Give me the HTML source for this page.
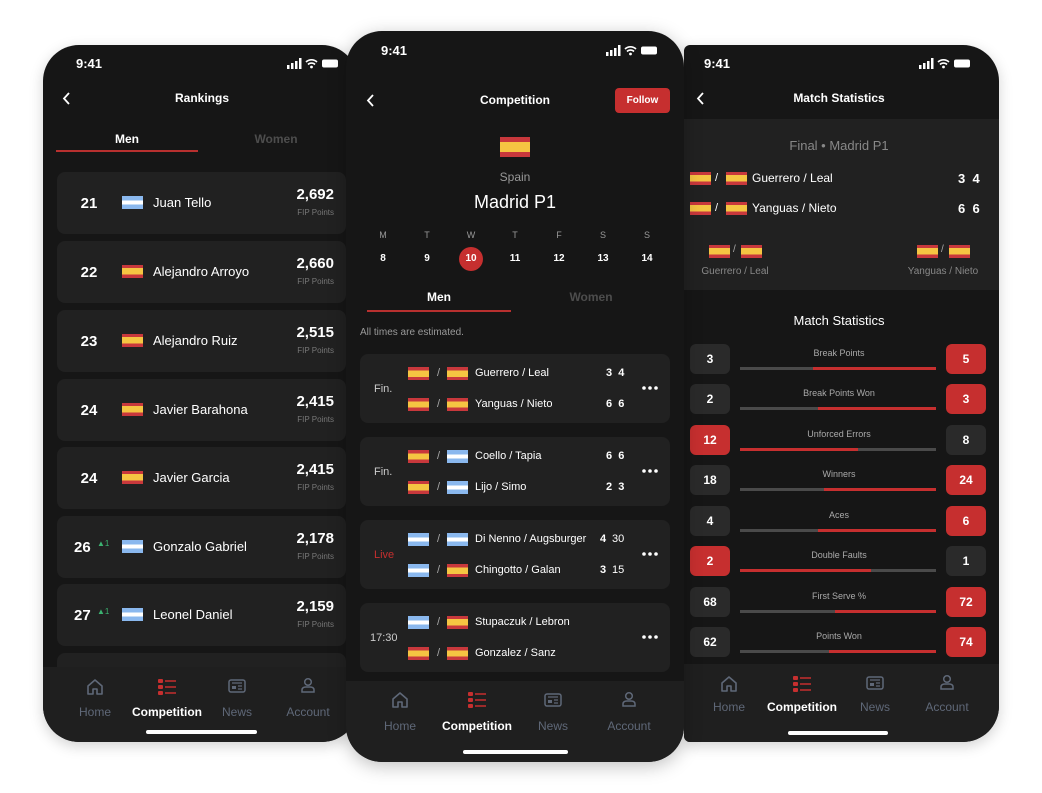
<!DOCTYPE html>
<html><head><meta charset="utf-8"><style>
*{margin:0;padding:0;box-sizing:border-box}
body{width:1042px;height:793px;background:#fff;position:relative;overflow:hidden;font-family:"Liberation Sans",sans-serif;color:#fff}
.a{position:absolute}
.ph{position:absolute;background:#161616;border-radius:36px;overflow:hidden;box-shadow:0 4px 14px rgba(0,0,0,.18)}
.c{position:absolute;text-align:center;white-space:nowrap;line-height:1}
.t{position:absolute;white-space:nowrap;line-height:1}
.es{position:absolute;width:21px;height:13px;background:linear-gradient(#c8383c 0 25%,#f5c542 25% 75%,#c8383c 75%)}
.ar{position:absolute;width:21px;height:13px;background:linear-gradient(#8ab8ee 0 33%,#fff 33% 67%,#8ab8ee 67%)}
.card{position:absolute;background:#212121;border-radius:8px}
.nav{position:absolute;left:0;width:100%;background:#1f1f1f}
.nl{position:absolute;width:100px;text-align:center;font-size:12px;color:#5f6878;line-height:1}
.nl.on{color:#fff;font-weight:bold}
.ind{position:absolute;height:4px;background:#fff;border-radius:2px}
.sb{position:absolute;width:40px;height:30px;border-radius:6px;background:#2a2a2a;text-align:center;line-height:30px;font-size:12px;font-weight:bold}
.sb.r{background:#c62f2f}
.bar{position:absolute;height:3px;width:196px;background:#4a4a4a}
.bar i{position:absolute;top:0;height:3px;background:#c62f2f}
.dots{position:absolute;left:282px;top:32px}
</style></head><body>

<!-- LEFT PHONE -->
<div class="ph" style="left:43px;top:45px;width:315px;height:697px;z-index:1">
 <div class="t" style="left:33px;top:12px;font-size:13px;font-weight:bold">9:41</div>
 <svg class="a" style="left:244px;top:13px" width="54" height="11"><rect x="0" y="7" width="2.5" height="4" fill="#fff"/><rect x="4" y="5" width="2.5" height="6" fill="#fff"/><rect x="8" y="3" width="2.5" height="8" fill="#fff"/><rect x="12" y="0" width="2.5" height="11" fill="#fff"/><path d="M19 4a8 8 0 0 1 11 0M21 6.5a5 5 0 0 1 7 0" stroke="#fff" stroke-width="1.6" fill="none"/><circle cx="24.5" cy="9" r="1.4" fill="#fff"/><rect x="35" y="1.5" width="16" height="8" rx="2" fill="#fff"/></svg>
 <svg class="a" style="left:19px;top:47px" width="10" height="13"><path d="M7 1L2 6.5L7 12" stroke="#fff" stroke-width="1.8" fill="none"/></svg>
 <div class="c" style="left:59px;width:200px;top:47px;font-size:12px;font-weight:bold">Rankings</div>
 <div class="c" style="left:34px;width:100px;top:88px;font-size:12px;font-weight:bold">Men</div>
 <div class="c" style="left:183px;width:100px;top:88px;font-size:12px;font-weight:bold;color:#4d4d4d">Women</div>
 <div class="a" style="left:13px;top:105px;width:142px;height:2px;background:#b8302f"></div>

 <div class="card" style="left:14px;top:127px;width:289px;height:62px"><div class="c" style="left:12px;width:40px;top:24px;font-size:15px;font-weight:bold">21</div><span class="ar" style="left:65px;top:24px"></span><div class="t" style="left:96px;top:24px;font-size:13px">Juan Tello</div><div class="t" style="right:12px;top:15px;font-size:15px;font-weight:bold">2,692</div><div class="t" style="right:12px;top:37px;font-size:8px;color:#777">FIP Points</div></div>
 <div class="card" style="left:14px;top:196px;width:289px;height:62px"><div class="c" style="left:12px;width:40px;top:24px;font-size:15px;font-weight:bold">22</div><span class="es" style="left:65px;top:24px"></span><div class="t" style="left:96px;top:24px;font-size:13px">Alejandro Arroyo</div><div class="t" style="right:12px;top:15px;font-size:15px;font-weight:bold">2,660</div><div class="t" style="right:12px;top:37px;font-size:8px;color:#777">FIP Points</div></div>
 <div class="card" style="left:14px;top:265px;width:289px;height:62px"><div class="c" style="left:12px;width:40px;top:24px;font-size:15px;font-weight:bold">23</div><span class="es" style="left:65px;top:24px"></span><div class="t" style="left:96px;top:24px;font-size:13px">Alejandro Ruiz</div><div class="t" style="right:12px;top:15px;font-size:15px;font-weight:bold">2,515</div><div class="t" style="right:12px;top:37px;font-size:8px;color:#777">FIP Points</div></div>
 <div class="card" style="left:14px;top:334px;width:289px;height:62px"><div class="c" style="left:12px;width:40px;top:24px;font-size:15px;font-weight:bold">24</div><span class="es" style="left:65px;top:24px"></span><div class="t" style="left:96px;top:24px;font-size:13px">Javier Barahona</div><div class="t" style="right:12px;top:15px;font-size:15px;font-weight:bold">2,415</div><div class="t" style="right:12px;top:37px;font-size:8px;color:#777">FIP Points</div></div>
 <div class="card" style="left:14px;top:402px;width:289px;height:62px"><div class="c" style="left:12px;width:40px;top:24px;font-size:15px;font-weight:bold">24</div><span class="es" style="left:65px;top:24px"></span><div class="t" style="left:96px;top:24px;font-size:13px">Javier Garcia</div><div class="t" style="right:12px;top:15px;font-size:15px;font-weight:bold">2,415</div><div class="t" style="right:12px;top:37px;font-size:8px;color:#777">FIP Points</div></div>
 <div class="card" style="left:14px;top:471px;width:289px;height:62px"><div class="t" style="left:17px;top:24px;font-size:15px;font-weight:bold">26</div><div class="t" style="left:40px;top:24px;font-size:8px;color:#3cb371">▲1</div><span class="ar" style="left:65px;top:24px"></span><div class="t" style="left:96px;top:24px;font-size:13px">Gonzalo Gabriel</div><div class="t" style="right:12px;top:15px;font-size:15px;font-weight:bold">2,178</div><div class="t" style="right:12px;top:37px;font-size:8px;color:#777">FIP Points</div></div>
 <div class="card" style="left:14px;top:539px;width:289px;height:62px"><div class="t" style="left:17px;top:24px;font-size:15px;font-weight:bold">27</div><div class="t" style="left:40px;top:24px;font-size:8px;color:#3cb371">▲1</div><span class="ar" style="left:65px;top:24px"></span><div class="t" style="left:96px;top:24px;font-size:13px">Leonel Daniel</div><div class="t" style="right:12px;top:15px;font-size:15px;font-weight:bold">2,159</div><div class="t" style="right:12px;top:37px;font-size:8px;color:#777">FIP Points</div></div>
 <div class="card" style="left:14px;top:608px;width:289px;height:62px"></div>

 <div class="nav" style="top:622px;height:75px">
  <svg class="a" style="left:43px;top:11px" width="18" height="18"><path d="M2 8L9 2L16 8V16H11V11H7V16H2Z" stroke="#5f6878" stroke-width="1.6" fill="none" stroke-linejoin="round"/></svg>
  <svg class="a" style="left:114px;top:11px" width="20" height="18"><rect x="1" y="1" width="5" height="4" rx="1" fill="#c62f2f"/><rect x="1" y="7" width="5" height="4" rx="1" fill="#c62f2f"/><rect x="1" y="13" width="5" height="4" rx="1" fill="#c62f2f"/><path d="M8 3H19M8 9H19M8 15H19" stroke="#c62f2f" stroke-width="1.5"/></svg>
  <svg class="a" style="left:185px;top:11px" width="18" height="16"><rect x="1" y="2" width="16" height="12" rx="2" stroke="#5f6878" stroke-width="1.5" fill="none"/><rect x="4" y="8" width="4" height="3" fill="#5f6878"/><path d="M4 5H14M10 8H14M10 11H14" stroke="#5f6878" stroke-width="1.2"/></svg>
  <svg class="a" style="left:257px;top:10px" width="16" height="17"><circle cx="8" cy="5" r="3.3" stroke="#5f6878" stroke-width="1.5" fill="none"/><path d="M2 15V13Q2 10 6 10H10Q14 10 14 13V15Z" stroke="#5f6878" stroke-width="1.5" fill="none"/></svg>
  <div class="nl" style="left:2px;top:39px">Home</div>
  <div class="nl on" style="left:74px;top:39px">Competition</div>
  <div class="nl" style="left:144px;top:39px">News</div>
  <div class="nl" style="left:215px;top:39px">Account</div>
  <div class="ind" style="left:103px;top:63px;width:111px"></div>
 </div>
</div>

<!-- RIGHT PHONE -->
<div class="ph" style="left:684px;top:45px;width:315px;height:697px;z-index:1;border-top-left-radius:6px;border-bottom-left-radius:6px">
<div class="a" style="left:-14px;top:0;width:329px;height:697px">
 <div class="t" style="left:34px;top:12px;font-size:13px;font-weight:bold">9:41</div>
 <svg class="a" style="left:249px;top:13px" width="54" height="11"><rect x="0" y="7" width="2.5" height="4" fill="#fff"/><rect x="4" y="5" width="2.5" height="6" fill="#fff"/><rect x="8" y="3" width="2.5" height="8" fill="#fff"/><rect x="12" y="0" width="2.5" height="11" fill="#fff"/><path d="M19 4a8 8 0 0 1 11 0M21 6.5a5 5 0 0 1 7 0" stroke="#fff" stroke-width="1.6" fill="none"/><circle cx="24.5" cy="9" r="1.4" fill="#fff"/><rect x="35" y="1.5" width="16" height="8" rx="2" fill="#fff"/></svg>
 <svg class="a" style="left:26px;top:47px" width="10" height="13"><path d="M7 1L2 6.5L7 12" stroke="#fff" stroke-width="1.8" fill="none"/></svg>
 <div class="c" style="left:69px;width:200px;top:47px;font-size:12px;font-weight:bold">Match Statistics</div>
 <div class="a" style="left:0;top:74px;width:329px;height:171px;background:#212121"></div>
 <div class="c" style="left:69px;width:200px;top:94px;font-size:13px;color:#888">Final • Madrid P1</div>
 <span class="es" style="left:20px;top:127px"></span><div class="t" style="left:45px;top:128px;font-size:11px">/</div><span class="es" style="left:56px;top:127px"></span><div class="t" style="left:82px;top:127px;font-size:12px">Guerrero / Leal</div><div class="t" style="left:288px;top:127px;font-size:13px;font-weight:bold">3&nbsp;&nbsp;4</div>
 <span class="es" style="left:20px;top:157px"></span><div class="t" style="left:45px;top:158px;font-size:11px">/</div><span class="es" style="left:56px;top:157px"></span><div class="t" style="left:82px;top:157px;font-size:12px">Yanguas / Nieto</div><div class="t" style="left:288px;top:157px;font-size:13px;font-weight:bold">6&nbsp;&nbsp;6</div>
 <span class="es" style="left:39px;top:200px"></span><div class="t" style="left:63px;top:200px;font-size:10px;color:#aaa">/</div><span class="es" style="left:71px;top:200px"></span>
 <span class="es" style="left:247px;top:200px"></span><div class="t" style="left:271px;top:200px;font-size:10px;color:#aaa">/</div><span class="es" style="left:279px;top:200px"></span>
 <div class="c" style="left:15px;width:100px;top:222px;font-size:10px;color:#888">Guerrero / Leal</div>
 <div class="c" style="left:223px;width:100px;top:222px;font-size:10px;color:#888">Yanguas / Nieto</div>
 <div class="c" style="left:69px;width:200px;top:269px;font-size:13px">Match Statistics</div>

 <div class="sb" style="left:20px;top:299px">3</div><div class="sb r" style="left:276px;top:299px">5</div><div class="c" style="left:69px;width:200px;top:304px;font-size:9px;color:#aaa">Break Points</div><div class="bar" style="left:70px;top:322px"><i style="left:73px;width:123px"></i></div>
 <div class="sb" style="left:20px;top:339px">2</div><div class="sb r" style="left:276px;top:339px">3</div><div class="c" style="left:69px;width:200px;top:344px;font-size:9px;color:#aaa">Break Points Won</div><div class="bar" style="left:70px;top:362px"><i style="left:78px;width:118px"></i></div>
 <div class="sb r" style="left:20px;top:380px">12</div><div class="sb" style="left:276px;top:380px">8</div><div class="c" style="left:69px;width:200px;top:385px;font-size:9px;color:#aaa">Unforced Errors</div><div class="bar" style="left:70px;top:403px"><i style="left:0;width:118px"></i></div>
 <div class="sb" style="left:20px;top:420px">18</div><div class="sb r" style="left:276px;top:420px">24</div><div class="c" style="left:69px;width:200px;top:425px;font-size:9px;color:#aaa">Winners</div><div class="bar" style="left:70px;top:443px"><i style="left:84px;width:112px"></i></div>
 <div class="sb" style="left:20px;top:461px">4</div><div class="sb r" style="left:276px;top:461px">6</div><div class="c" style="left:69px;width:200px;top:466px;font-size:9px;color:#aaa">Aces</div><div class="bar" style="left:70px;top:484px"><i style="left:78px;width:118px"></i></div>
 <div class="sb r" style="left:20px;top:501px">2</div><div class="sb" style="left:276px;top:501px">1</div><div class="c" style="left:69px;width:200px;top:506px;font-size:9px;color:#aaa">Double Faults</div><div class="bar" style="left:70px;top:524px"><i style="left:0;width:131px"></i></div>
 <div class="sb" style="left:20px;top:542px">68</div><div class="sb r" style="left:276px;top:542px">72</div><div class="c" style="left:69px;width:200px;top:547px;font-size:9px;color:#aaa">First Serve %</div><div class="bar" style="left:70px;top:565px"><i style="left:95px;width:101px"></i></div>
 <div class="sb" style="left:20px;top:582px">62</div><div class="sb r" style="left:276px;top:582px">74</div><div class="c" style="left:69px;width:200px;top:587px;font-size:9px;color:#aaa">Points Won</div><div class="bar" style="left:70px;top:605px"><i style="left:89px;width:107px"></i></div>

 <div class="nav" style="top:619px;height:78px">
  <svg class="a" style="left:50px;top:11px" width="18" height="18"><path d="M2 8L9 2L16 8V16H11V11H7V16H2Z" stroke="#5f6878" stroke-width="1.6" fill="none" stroke-linejoin="round"/></svg>
  <svg class="a" style="left:122px;top:11px" width="20" height="18"><rect x="1" y="1" width="5" height="4" rx="1" fill="#c62f2f"/><rect x="1" y="7" width="5" height="4" rx="1" fill="#c62f2f"/><rect x="1" y="13" width="5" height="4" rx="1" fill="#c62f2f"/><path d="M8 3H19M8 9H19M8 15H19" stroke="#c62f2f" stroke-width="1.5"/></svg>
  <svg class="a" style="left:196px;top:11px" width="18" height="16"><rect x="1" y="2" width="16" height="12" rx="2" stroke="#5f6878" stroke-width="1.5" fill="none"/><rect x="4" y="8" width="4" height="3" fill="#5f6878"/><path d="M4 5H14M10 8H14M10 11H14" stroke="#5f6878" stroke-width="1.2"/></svg>
  <svg class="a" style="left:269px;top:10px" width="16" height="17"><circle cx="8" cy="5" r="3.3" stroke="#5f6878" stroke-width="1.5" fill="none"/><path d="M2 15V13Q2 10 6 10H10Q14 10 14 13V15Z" stroke="#5f6878" stroke-width="1.5" fill="none"/></svg>
  <div class="nl" style="left:9px;top:37px">Home</div>
  <div class="nl on" style="left:82px;top:37px">Competition</div>
  <div class="nl" style="left:155px;top:37px">News</div>
  <div class="nl" style="left:227px;top:37px">Account</div>
  <div class="ind" style="left:118px;top:67px;width:100px"></div>
 </div>
</div>
</div>

<!-- MIDDLE PHONE -->
<div class="ph" style="left:346px;top:31px;width:338px;height:731px;z-index:2;box-shadow:0 4px 18px rgba(0,0,0,.25)">
 <div class="t" style="left:35px;top:13px;font-size:13px;font-weight:bold">9:41</div>
 <svg class="a" style="left:260px;top:14px" width="54" height="11"><rect x="0" y="7" width="2.5" height="4" fill="#fff"/><rect x="4" y="5" width="2.5" height="6" fill="#fff"/><rect x="8" y="3" width="2.5" height="8" fill="#fff"/><rect x="12" y="0" width="2.5" height="11" fill="#fff"/><path d="M19 4a8 8 0 0 1 11 0M21 6.5a5 5 0 0 1 7 0" stroke="#fff" stroke-width="1.6" fill="none"/><circle cx="24.5" cy="9" r="1.4" fill="#fff"/><rect x="35" y="1.5" width="16" height="8" rx="2" fill="#fff"/></svg>
 <svg class="a" style="left:20px;top:63px" width="10" height="13"><path d="M7 1L2 6.5L7 12" stroke="#fff" stroke-width="1.8" fill="none"/></svg>
 <div class="c" style="left:69px;width:200px;top:63px;font-size:12px;font-weight:bold">Competition</div>
 <div class="a" style="left:269px;top:57px;width:55px;height:25px;border-radius:4px;background:#c62f2f;text-align:center;line-height:25px;font-size:10px;font-weight:bold">Follow</div>
 <span class="es" style="left:154px;top:106px;width:30px;height:20px"></span>
 <div class="c" style="left:69px;width:200px;top:140px;font-size:12px;color:#999">Spain</div>
 <div class="c" style="left:69px;width:200px;top:162px;font-size:18px">Madrid P1</div>
 <div class="c" style="left:22px;width:30px;top:200px;font-size:9px;color:#999">M</div>
 <div class="c" style="left:66px;width:30px;top:200px;font-size:9px;color:#999">T</div>
 <div class="c" style="left:110px;width:30px;top:200px;font-size:9px;color:#999">W</div>
 <div class="c" style="left:154px;width:30px;top:200px;font-size:9px;color:#999">T</div>
 <div class="c" style="left:198px;width:30px;top:200px;font-size:9px;color:#999">F</div>
 <div class="c" style="left:242px;width:30px;top:200px;font-size:9px;color:#999">S</div>
 <div class="c" style="left:286px;width:30px;top:200px;font-size:9px;color:#999">S</div>
 <div class="a" style="left:113px;top:216px;width:24px;height:24px;border-radius:50%;background:#c62f2f"></div>
 <div class="c" style="left:22px;width:30px;top:223px;font-size:10px;font-weight:bold">8</div>
 <div class="c" style="left:66px;width:30px;top:223px;font-size:10px;font-weight:bold">9</div>
 <div class="c" style="left:110px;width:30px;top:223px;font-size:10px;font-weight:bold">10</div>
 <div class="c" style="left:154px;width:30px;top:223px;font-size:10px;font-weight:bold">11</div>
 <div class="c" style="left:198px;width:30px;top:223px;font-size:10px;font-weight:bold">12</div>
 <div class="c" style="left:242px;width:30px;top:223px;font-size:10px;font-weight:bold">13</div>
 <div class="c" style="left:286px;width:30px;top:223px;font-size:10px;font-weight:bold">14</div>
 <div class="c" style="left:43px;width:100px;top:260px;font-size:12px;font-weight:bold">Men</div>
 <div class="c" style="left:195px;width:100px;top:260px;font-size:12px;font-weight:bold;color:#4d4d4d">Women</div>
 <div class="a" style="left:21px;top:279px;width:144px;height:2px;background:#b8302f"></div>
 <div class="t" style="left:14px;top:297px;font-size:10px;color:#999">All times are estimated.</div>

 <div class="card" style="left:14px;top:323px;width:310px;height:69px"><div class="t" style="left:14px;top:30px;font-size:11px;color:#ccc">Fin.</div><span class="es" style="left:48px;top:13px"></span><div class="t" style="left:77px;top:14px;font-size:11px;color:#aaa">/</div><span class="es" style="left:87px;top:13px"></span><div class="t" style="left:115px;top:14px;font-size:11px">Guerrero / Leal</div><div class="t" style="left:246px;top:14px;font-size:11px;font-weight:bold">3&nbsp;&nbsp;4</div><span class="es" style="left:48px;top:44px"></span><div class="t" style="left:77px;top:45px;font-size:11px;color:#aaa">/</div><span class="es" style="left:87px;top:44px"></span><div class="t" style="left:115px;top:45px;font-size:11px">Yanguas / Nieto</div><div class="t" style="left:246px;top:45px;font-size:11px;font-weight:bold">6&nbsp;&nbsp;6</div><svg class="dots" width="16" height="4"><circle cx="2" cy="2" r="1.8" fill="#fff"/><circle cx="8" cy="2" r="1.8" fill="#fff"/><circle cx="14" cy="2" r="1.8" fill="#fff"/></svg></div>
 <div class="card" style="left:14px;top:406px;width:310px;height:69px"><div class="t" style="left:14px;top:30px;font-size:11px;color:#ccc">Fin.</div><span class="es" style="left:48px;top:13px"></span><div class="t" style="left:77px;top:14px;font-size:11px;color:#aaa">/</div><span class="ar" style="left:87px;top:13px"></span><div class="t" style="left:115px;top:14px;font-size:11px">Coello / Tapia</div><div class="t" style="left:246px;top:14px;font-size:11px;font-weight:bold">6&nbsp;&nbsp;6</div><span class="es" style="left:48px;top:44px"></span><div class="t" style="left:77px;top:45px;font-size:11px;color:#aaa">/</div><span class="ar" style="left:87px;top:44px"></span><div class="t" style="left:115px;top:45px;font-size:11px">Lijo / Simo</div><div class="t" style="left:246px;top:45px;font-size:11px;font-weight:bold">2&nbsp;&nbsp;3</div><svg class="dots" width="16" height="4"><circle cx="2" cy="2" r="1.8" fill="#fff"/><circle cx="8" cy="2" r="1.8" fill="#fff"/><circle cx="14" cy="2" r="1.8" fill="#fff"/></svg></div>
 <div class="card" style="left:14px;top:489px;width:310px;height:69px"><div class="t" style="left:14px;top:30px;font-size:11px;color:#c62f2f">Live</div><span class="ar" style="left:48px;top:13px"></span><div class="t" style="left:77px;top:14px;font-size:11px;color:#aaa">/</div><span class="ar" style="left:87px;top:13px"></span><div class="t" style="left:115px;top:14px;font-size:11px">Di Nenno / Augsburger</div><div class="t" style="left:240px;top:14px;font-size:11px;font-weight:bold">4</div><div class="t" style="left:252px;top:14px;font-size:11px">30</div><span class="ar" style="left:48px;top:44px"></span><div class="t" style="left:77px;top:45px;font-size:11px;color:#aaa">/</div><span class="es" style="left:87px;top:44px"></span><div class="t" style="left:115px;top:45px;font-size:11px">Chingotto / Galan</div><div class="t" style="left:240px;top:45px;font-size:11px;font-weight:bold">3</div><div class="t" style="left:252px;top:45px;font-size:11px">15</div><svg class="dots" width="16" height="4"><circle cx="2" cy="2" r="1.8" fill="#fff"/><circle cx="8" cy="2" r="1.8" fill="#fff"/><circle cx="14" cy="2" r="1.8" fill="#fff"/></svg></div>
 <div class="card" style="left:14px;top:572px;width:310px;height:69px"><div class="t" style="left:10px;top:30px;font-size:11px;color:#ccc">17:30</div><span class="ar" style="left:48px;top:13px"></span><div class="t" style="left:77px;top:14px;font-size:11px;color:#aaa">/</div><span class="es" style="left:87px;top:13px"></span><div class="t" style="left:115px;top:14px;font-size:11px">Stupaczuk / Lebron</div><span class="es" style="left:48px;top:44px"></span><div class="t" style="left:77px;top:45px;font-size:11px;color:#aaa">/</div><span class="es" style="left:87px;top:44px"></span><div class="t" style="left:115px;top:45px;font-size:11px">Gonzalez / Sanz</div><svg class="dots" width="16" height="4"><circle cx="2" cy="2" r="1.8" fill="#fff"/><circle cx="8" cy="2" r="1.8" fill="#fff"/><circle cx="14" cy="2" r="1.8" fill="#fff"/></svg></div>

 <div class="nav" style="top:650px;height:81px">
  <svg class="a" style="left:45px;top:10px" width="18" height="18"><path d="M2 8L9 2L16 8V16H11V11H7V16H2Z" stroke="#5f6878" stroke-width="1.6" fill="none" stroke-linejoin="round"/></svg>
  <svg class="a" style="left:121px;top:10px" width="20" height="18"><rect x="1" y="1" width="5" height="4" rx="1" fill="#c62f2f"/><rect x="1" y="7" width="5" height="4" rx="1" fill="#c62f2f"/><rect x="1" y="13" width="5" height="4" rx="1" fill="#c62f2f"/><path d="M8 3H19M8 9H19M8 15H19" stroke="#c62f2f" stroke-width="1.5"/></svg>
  <svg class="a" style="left:198px;top:11px" width="18" height="16"><rect x="1" y="2" width="16" height="12" rx="2" stroke="#5f6878" stroke-width="1.5" fill="none"/><rect x="4" y="8" width="4" height="3" fill="#5f6878"/><path d="M4 5H14M10 8H14M10 11H14" stroke="#5f6878" stroke-width="1.2"/></svg>
  <svg class="a" style="left:275px;top:10px" width="16" height="17"><circle cx="8" cy="5" r="3.3" stroke="#5f6878" stroke-width="1.5" fill="none"/><path d="M2 15V13Q2 10 6 10H10Q14 10 14 13V15Z" stroke="#5f6878" stroke-width="1.5" fill="none"/></svg>
  <div class="nl" style="left:4px;top:39px">Home</div>
  <div class="nl on" style="left:81px;top:39px">Competition</div>
  <div class="nl" style="left:157px;top:39px">News</div>
  <div class="nl" style="left:233px;top:39px">Account</div>
  <div class="ind" style="left:117px;top:69px;width:105px"></div>
 </div>
</div>
</body></html>
